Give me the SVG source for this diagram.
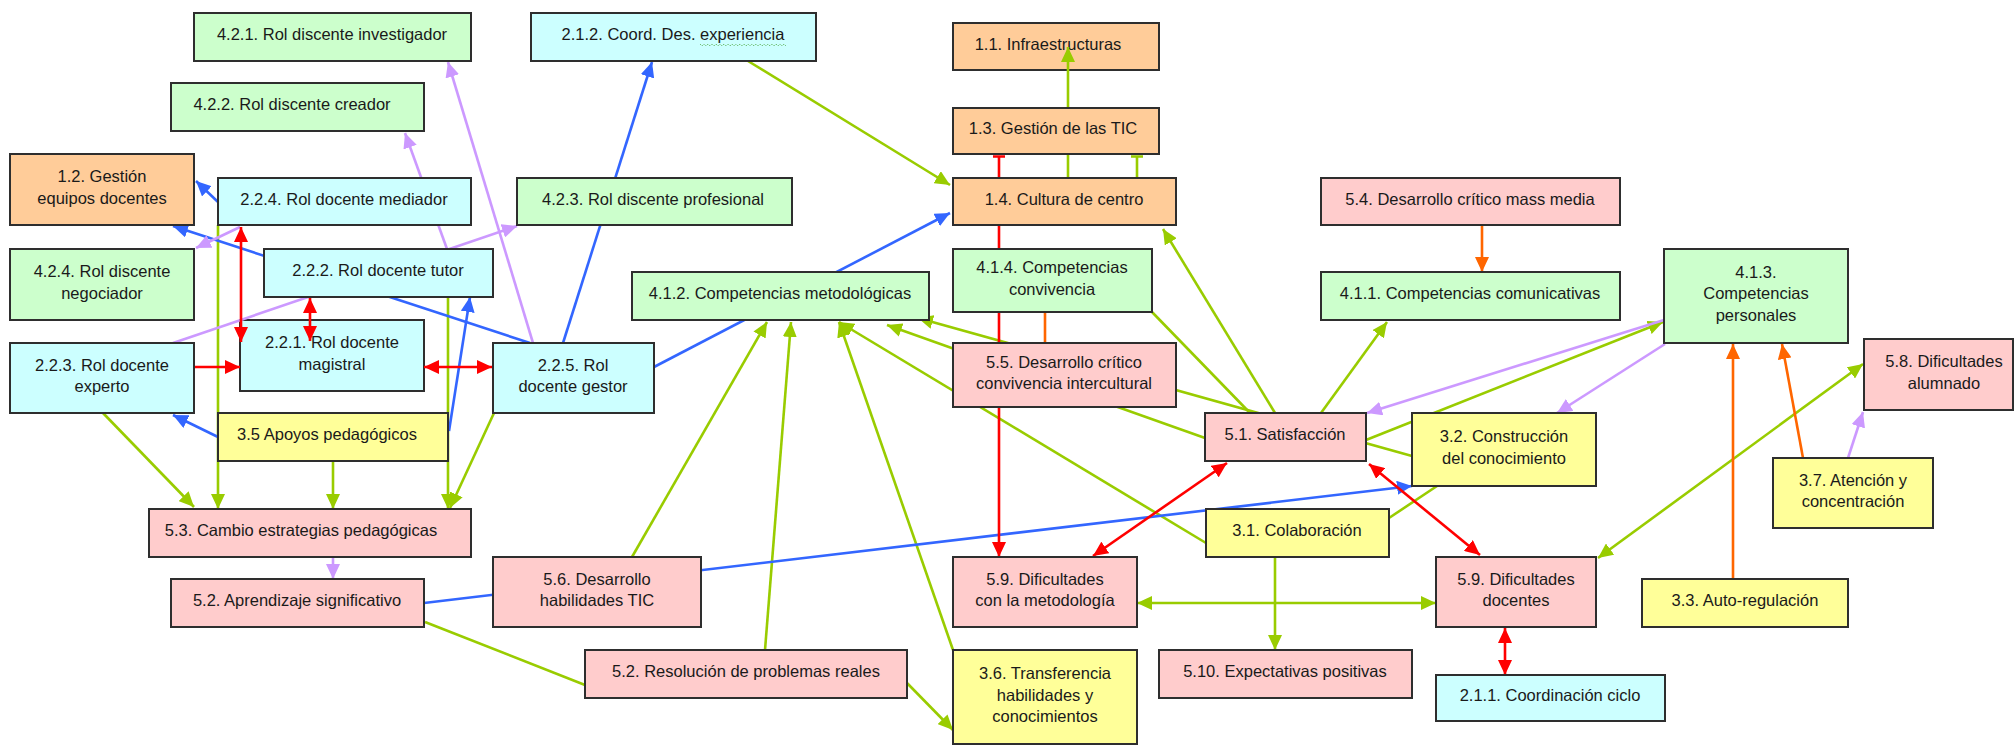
<svg xmlns="http://www.w3.org/2000/svg" width="2014" height="745" viewBox="0 0 2014 745">
  <style>
    .box rect { stroke: #2e2e2e; stroke-width: 2; }
    .or rect { fill: #ffcc99; }
    .cy rect { fill: #ccffff; }
    .gr rect { fill: #ccffcc; }
    .pk rect { fill: #ffcccc; }
    .ye rect { fill: #ffff99; }
    .box text { font-family: "Liberation Sans", Arial, sans-serif; font-size: 16.5px; fill: #1a1a1a; text-anchor: middle; }
    .edges path { fill: none; stroke-width: 2.6; }
    .g { stroke: #99cc00; }
    .b { stroke: #3366ff; }
    .p { stroke: #cc99ff; }
    .r { stroke: #ff0000; }
    .o { stroke: #ff6600; }
  </style>
  <defs>
    <marker id="ag" viewBox="0 0 15 14" refX="15" refY="7" markerWidth="15" markerHeight="14" markerUnits="userSpaceOnUse" orient="auto-start-reverse"><path d="M0,0 L15,7 L0,14 z" fill="#99cc00"/></marker>
    <marker id="ab" viewBox="0 0 15 14" refX="15" refY="7" markerWidth="15" markerHeight="14" markerUnits="userSpaceOnUse" orient="auto-start-reverse"><path d="M0,0 L15,7 L0,14 z" fill="#3366ff"/></marker>
    <marker id="ap" viewBox="0 0 15 14" refX="15" refY="7" markerWidth="15" markerHeight="14" markerUnits="userSpaceOnUse" orient="auto-start-reverse"><path d="M0,0 L15,7 L0,14 z" fill="#cc99ff"/></marker>
    <marker id="ar" viewBox="0 0 15 14" refX="15" refY="7" markerWidth="15" markerHeight="14" markerUnits="userSpaceOnUse" orient="auto-start-reverse"><path d="M0,0 L15,7 L0,14 z" fill="#ff0000"/></marker>
    <marker id="ao" viewBox="0 0 15 14" refX="15" refY="7" markerWidth="15" markerHeight="14" markerUnits="userSpaceOnUse" orient="auto-start-reverse"><path d="M0,0 L15,7 L0,14 z" fill="#ff6600"/></marker>
  </defs>

  <!-- boxes that arrowheads are drawn over -->
  <g id="n-1-1" class="box or"><rect x="953" y="23" width="206" height="47"/><text><tspan x="1048" y="50">1.1. Infraestructuras</tspan></text></g>
  <g id="n-2-2-1" class="box cy"><rect x="240" y="320" width="184" height="71"/><text><tspan x="332" y="348">2.2.1. Rol docente</tspan><tspan x="332" y="369.5">magistral</tspan></text></g>

  <g id="connectors" class="edges">
    <!-- green -->
    <path class="g" d="M103,413 L194,507" marker-end="url(#ag)"/>
    <path class="g" d="M218,225 L218,509" marker-end="url(#ag)"/>
    <path class="g" d="M333,461 L333,509" marker-end="url(#ag)"/>
    <path class="g" d="M448,297 L448,509" marker-end="url(#ag)"/>
    <path class="g" d="M494,413 L450,508" marker-end="url(#ag)"/>
    <path class="g" d="M425,622 L585,685"/>
    <path class="g" d="M907,683 L953,730" marker-end="url(#ag)"/>
    <path class="g" d="M632,557 L767,322" marker-end="url(#ag)"/>
    <path class="g" d="M765,650 L791,322" marker-end="url(#ag)"/>
    <path class="g" d="M953,650 L839,322" marker-end="url(#ag)"/>
    <path class="g" d="M1206,543 L839,322" marker-end="url(#ag)"/>
    <path class="g" d="M1205,438 L887,325" marker-end="url(#ag)"/>
    <path class="g" d="M1412,456 L918,318" marker-end="url(#ag)"/>
    <path class="g" d="M748,61 L950,185" marker-end="url(#ag)"/>
    <path class="g" d="M1068,178 L1068,47" marker-end="url(#ag)"/>
    <path class="g" d="M1131,156.5 H1143 M1137,156.5 V178"/>
    <path class="g" d="M1152,312 L1250,413"/>
    <path class="g" d="M1275,413 L1163,229" marker-end="url(#ag)"/>
    <path class="g" d="M1321,413 L1387,322" marker-end="url(#ag)"/>
    <path class="g" d="M1366,440 L1663,322" marker-end="url(#ag)"/>
    <path class="g" d="M1389,518 L1437,486"/>
    <path class="g" d="M1275,557 L1275,650" marker-end="url(#ag)"/>
    <path class="g" d="M1137,603 L1436,603" marker-start="url(#ag)" marker-end="url(#ag)"/>
    <path class="g" d="M1598,558 L1863,364" marker-start="url(#ag)" marker-end="url(#ag)"/>
    <!-- blue -->
    <path class="b" d="M218,202 L196,181" marker-end="url(#ab)"/>
    <path class="b" d="M530,343 L173,226" marker-end="url(#ab)"/>
    <path class="b" d="M218,437 L173,415" marker-end="url(#ab)"/>
    <path class="b" d="M449,431 L470,297" marker-end="url(#ab)"/>
    <path class="b" d="M563,343 L652,62" marker-end="url(#ab)"/>
    <path class="b" d="M654,367 L950,213" marker-end="url(#ab)"/>
    <path class="b" d="M424,603 L1412,486" marker-end="url(#ab)"/>
    <!-- purple -->
    <path class="p" d="M240,227 L196,248" marker-end="url(#ap)"/>
    <path class="p" d="M173,343 L517,226" marker-end="url(#ap)"/>
    <path class="p" d="M447,249 L405,133" marker-end="url(#ap)"/>
    <path class="p" d="M533,343 L448,62" marker-end="url(#ap)"/>
    <path class="p" d="M333,557 L333,579" marker-end="url(#ap)"/>
    <path class="p" d="M1664,320 L1367,413" marker-end="url(#ap)"/>
    <path class="p" d="M1665,344 L1557,413" marker-end="url(#ap)"/>
    <path class="p" d="M1848,458 L1863,412" marker-end="url(#ap)"/>
    <!-- red -->
    <path class="r" d="M241,227 L241,342" marker-start="url(#ar)" marker-end="url(#ar)"/>
    <path class="r" d="M310,298 L310,341" marker-start="url(#ar)" marker-end="url(#ar)"/>
    <path class="r" d="M194,367 L240,367" marker-end="url(#ar)"/>
    <path class="r" d="M424,367 L492,367" marker-start="url(#ar)" marker-end="url(#ar)"/>
    <path class="r" d="M993,156.5 H1005 M999,156.5 V557" marker-end="url(#ar)"/>
    <path class="r" d="M1227,463 L1093,556" marker-start="url(#ar)" marker-end="url(#ar)"/>
    <path class="r" d="M1369,464 L1480,555" marker-start="url(#ar)" marker-end="url(#ar)"/>
    <path class="r" d="M1505,628 L1505,675" marker-start="url(#ar)" marker-end="url(#ar)"/>
    <!-- orange -->
    <path class="o" d="M1045,312 L1045,343"/>
    <path class="o" d="M1482,225 L1482,272" marker-end="url(#ao)"/>
    <path class="o" d="M1733,579 L1733,344" marker-end="url(#ao)"/>
    <path class="o" d="M1803,458 L1782,344" marker-end="url(#ao)"/>
  </g>

  <!-- nodes -->
  <g id="n-4-2-1" class="box gr"><rect x="194" y="13" width="277" height="48"/><text><tspan x="332" y="40">4.2.1. Rol discente investigador</tspan></text></g>
  <g id="n-4-2-2" class="box gr"><rect x="171" y="83" width="253" height="48"/><text><tspan x="292" y="110">4.2.2. Rol discente creador</tspan></text></g>
  <g id="n-1-2" class="box or"><rect x="10" y="154" width="184" height="71"/><text><tspan x="102" y="182">1.2. Gestión</tspan><tspan x="102" y="203.5">equipos docentes</tspan></text></g>
  <g id="n-2-2-4" class="box cy"><rect x="218" y="178" width="253" height="47"/><text><tspan x="344" y="204.5">2.2.4. Rol docente mediador</tspan></text></g>
  <g id="n-4-2-4" class="box gr"><rect x="10" y="249" width="184" height="71"/><text><tspan x="102" y="277">4.2.4. Rol discente</tspan><tspan x="102" y="298.5">negociador</tspan></text></g>
  <g id="n-2-2-2" class="box cy"><rect x="264" y="249" width="229" height="48"/><text><tspan x="378" y="276">2.2.2. Rol docente tutor</tspan></text></g>
  <g id="n-2-2-3" class="box cy"><rect x="10" y="343" width="184" height="70"/><text><tspan x="102" y="370.5">2.2.3. Rol docente</tspan><tspan x="102" y="392">experto</tspan></text></g>
  <g id="n-3-5" class="box ye"><rect x="218" y="413" width="230" height="48"/><text><tspan x="327" y="440">3.5 Apoyos pedagógicos</tspan></text></g>
  <g id="n-2-2-5" class="box cy"><rect x="493" y="343" width="161" height="70"/><text><tspan x="573" y="370.5">2.2.5. Rol</tspan><tspan x="573" y="392">docente gestor</tspan></text></g>
  <g id="n-5-3" class="box pk"><rect x="149" y="509" width="322" height="48"/><text><tspan x="301" y="536">5.3. Cambio estrategias pedagógicas</tspan></text></g>
  <g id="n-5-2-a" class="box pk"><rect x="171" y="579" width="253" height="48"/><text><tspan x="297" y="606">5.2. Aprendizaje significativo</tspan></text></g>
  <g id="n-2-1-2" class="box cy"><rect x="531" y="13" width="285" height="48"/><text><tspan x="673" y="40">2.1.2. Coord. Des. experiencia</tspan></text><path d="M700,44 l2,2 l2,-2 l2,2 l2,-2 l2,2 l2,-2 l2,2 l2,-2 l2,2 l2,-2 l2,2 l2,-2 l2,2 l2,-2 l2,2 l2,-2 l2,2 l2,-2 l2,2 l2,-2 l2,2 l2,-2 l2,2 l2,-2 l2,2 l2,-2 l2,2 l2,-2 l2,2 l2,-2 l2,2 l2,-2 l2,2 l2,-2 l2,2 l2,-2 l2,2 l2,-2 l2,2 l2,-2 l2,2 l2,-2 l2,2" fill="none" stroke="#6fbf73" stroke-width="1" stroke-dasharray="1.5 1"/></g>
  <g id="n-4-2-3" class="box gr"><rect x="517" y="178" width="275" height="47"/><text><tspan x="653" y="204.5">4.2.3. Rol discente profesional</tspan></text></g>
  <g id="n-4-1-2" class="box gr"><rect x="632" y="272" width="297" height="48"/><text><tspan x="780" y="299">4.1.2. Competencias metodológicas</tspan></text></g>
  <g id="n-5-6" class="box pk"><rect x="493" y="557" width="208" height="70"/><text><tspan x="597" y="584.5">5.6. Desarrollo</tspan><tspan x="597" y="606">habilidades TIC</tspan></text></g>
  <g id="n-5-2-r" class="box pk"><rect x="585" y="650" width="322" height="48"/><text><tspan x="746" y="677">5.2. Resolución de problemas reales</tspan></text></g>
  <g id="n-1-3" class="box or"><rect x="953" y="108" width="206" height="46"/><text><tspan x="1053" y="134">1.3. Gestión de las TIC</tspan></text></g>
  <g id="n-1-4" class="box or"><rect x="953" y="178" width="223" height="47"/><text><tspan x="1064" y="204.5">1.4. Cultura de centro</tspan></text></g>
  <g id="n-4-1-4" class="box gr"><rect x="953" y="249" width="199" height="63"/><text><tspan x="1052" y="273">4.1.4. Competencias</tspan><tspan x="1052" y="294.5">convivencia</tspan></text></g>
  <g id="n-5-5" class="box pk"><rect x="953" y="343" width="223" height="64"/><text><tspan x="1064" y="367.5">5.5. Desarrollo crítico</tspan><tspan x="1064" y="389">convivencia intercultural</tspan></text></g>
  <g id="n-5-4" class="box pk"><rect x="1321" y="178" width="299" height="47"/><text><tspan x="1470" y="204.5">5.4. Desarrollo crítico mass media</tspan></text></g>
  <g id="n-4-1-1" class="box gr"><rect x="1321" y="272" width="299" height="48"/><text><tspan x="1470" y="299">4.1.1. Competencias comunicativas</tspan></text></g>
  <g id="n-4-1-3" class="box gr"><rect x="1664" y="249" width="184" height="94"/><text><tspan x="1756" y="277.5">4.1.3.</tspan><tspan x="1756" y="299">Competencias</tspan><tspan x="1756" y="320.5">personales</tspan></text></g>
  <g id="n-5-8" class="box pk"><rect x="1864" y="339" width="149" height="71"/><text><tspan x="1944" y="367">5.8. Dificultades</tspan><tspan x="1944" y="388.5">alumnado</tspan></text></g>
  <g id="n-5-1" class="box pk"><rect x="1205" y="413" width="161" height="48"/><text><tspan x="1285" y="440">5.1. Satisfacción</tspan></text></g>
  <g id="n-3-2" class="box ye"><rect x="1412" y="413" width="184" height="73"/><text><tspan x="1504" y="442">3.2. Construcción</tspan><tspan x="1504" y="463.5">del conocimiento</tspan></text></g>
  <g id="n-3-7" class="box ye"><rect x="1773" y="458" width="160" height="70"/><text><tspan x="1853" y="485.5">3.7. Atención y</tspan><tspan x="1853" y="507">concentración</tspan></text></g>
  <g id="n-3-1" class="box ye"><rect x="1206" y="509" width="183" height="48"/><text><tspan x="1297" y="536">3.1. Colaboración</tspan></text></g>
  <g id="n-5-9-m" class="box pk"><rect x="953" y="557" width="184" height="70"/><text><tspan x="1045" y="584.5">5.9. Dificultades</tspan><tspan x="1045" y="606">con la metodología</tspan></text></g>
  <g id="n-5-9-d" class="box pk"><rect x="1436" y="557" width="160" height="70"/><text><tspan x="1516" y="584.5">5.9. Dificultades</tspan><tspan x="1516" y="606">docentes</tspan></text></g>
  <g id="n-3-3" class="box ye"><rect x="1642" y="579" width="206" height="48"/><text><tspan x="1745" y="606">3.3. Auto-regulación</tspan></text></g>
  <g id="n-5-10" class="box pk"><rect x="1159" y="650" width="253" height="48"/><text><tspan x="1285" y="677">5.10. Expectativas positivas</tspan></text></g>
  <g id="n-3-6" class="box ye"><rect x="953" y="650" width="184" height="94"/><text><tspan x="1045" y="679">3.6. Transferencia</tspan><tspan x="1045" y="700.5">habilidades y</tspan><tspan x="1045" y="722">conocimientos</tspan></text></g>
  <g id="n-2-1-1" class="box cy"><rect x="1436" y="675" width="229" height="46"/><text><tspan x="1550" y="701">2.1.1. Coordinación ciclo</tspan></text></g>
</svg>
